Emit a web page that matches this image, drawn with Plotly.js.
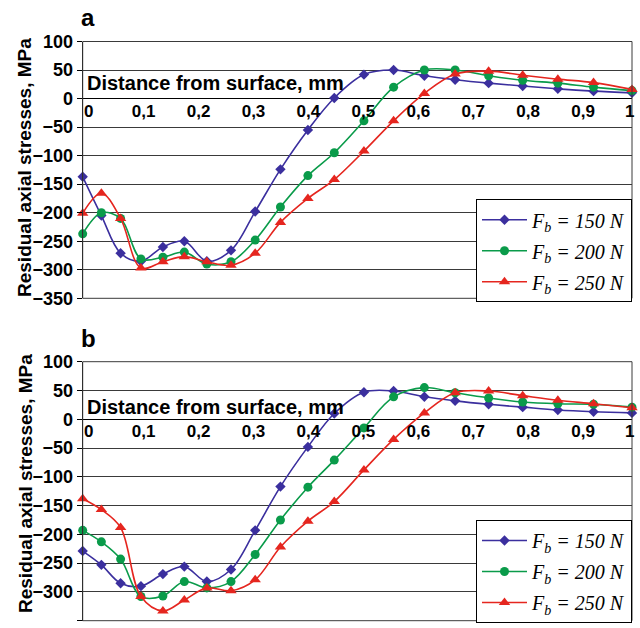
<!DOCTYPE html>
<html>
<head>
<meta charset="utf-8">
<script src="https://cdn.plot.ly/plotly-3.0.1.min.js"></script>
<style>html,body{margin:0;padding:0;background:#fff;}#chart{width:640px;height:628px;}</style>
</head>
<body>
<div id="chart"></div>
<script>
// Depth from surface, mm (shared by all series)
const depth = [0, 0.034, 0.069, 0.106, 0.146, 0.185, 0.226, 0.270, 0.314, 0.360, 0.410, 0.458, 0.512, 0.566, 0.622, 0.678, 0.739, 0.801, 0.865, 0.930, 1.0];

// Panel a
const blueA  = [-137, -205, -271, -285, -260, -250, -285, -266, -198, -124, -55, 1, 42, 50, 40, 33, 27, 22, 17, 13, 10];
const greenA = [-237, -200, -210, -281, -278, -269, -290, -286, -248, -190, -135, -95, -39, 20, 50, 50, 40, 32, 27, 20, 14];
const redA   = [-201, -166, -210, -297, -286, -277, -286, -292, -271, -217, -175, -142, -92, -39, 9, 43, 48, 41, 34, 28, 16];

// Panel b
const blueB  = [-229, -253, -285, -290, -269, -256, -282, -261, -193, -117, -48, 10, 47, 49, 39, 32, 26, 21, 16, 13, 11];
const greenB = [-193, -213, -243, -308, -307, -282, -293, -282, -235, -175, -118, -71, -15, 39, 55, 46, 37, 30, 27, 26, 21];
const redB   = [-138, -157, -188, -308, -333, -314, -293, -298, -279, -222, -177, -143, -88, -35, 11, 46, 49, 41, 33, 27, 20];

const seriesNames = ['<i>F<sub>b</sub> = 150 N</i>', '<i>F<sub>b</sub> = 200 N</i>', '<i>F<sub>b</sub> = 250 N</i>'];
const xTickVals = [0, 0.1, 0.2, 0.3, 0.4, 0.5, 0.6, 0.7, 0.8, 0.9, 1];
const xTickText = ['0', '0,1', '0,2', '0,3', '0,4', '0,5', '0,6', '0,7', '0,8', '0,9', '1'];
const yTickVals = [100, 50, 0, -50, -100, -150, -200, -250, -300, -350];
const panelLabels = ['a', 'b'];
const xTitle = 'Distance from surface, mm';
const yTitle = 'Residual axial stresses, MPa';

const colors = ['#3b2f9e', '#0a9b4a', '#e5261f'];
const symbols = ['diamond', 'circle', 'triangle-up'];
const sizes = [8, 9, 10];

const W = 640, H = 628;
const px2fx = p => p / W;
const py2fy = p => 1 - p / H;

function mk(xa, ya, yvals, i, leg) {
  return {
    x: depth, y: yvals, xaxis: xa, yaxis: ya,
    type: 'scatter', mode: 'lines+markers',
    name: seriesNames[i], legend: leg, legendgroup: leg + i,
    line: {color: colors[i], width: 1.6, shape: 'spline', smoothing: 1},
    marker: {color: colors[i], symbol: symbols[i], size: sizes[i]},
    cliponaxis: false
  };
}

const data = [
  mk('x', 'y', blueA, 0, 'legend'), mk('x', 'y', greenA, 1, 'legend'), mk('x', 'y', redA, 2, 'legend'),
  mk('x2', 'y2', blueB, 0, 'legend2'), mk('x2', 'y2', greenB, 1, 'legend2'), mk('x2', 'y2', redB, 2, 'legend2')
];

const xDom = [px2fx(82.7), px2fx(632)];
const yDomA = [py2fy(298.3), py2fy(41.5)];
const yDomB = [py2fy(620.7), py2fy(361.7)];
const zeroA = yDomA[0] + (yDomA[1] - yDomA[0]) * (350 / 450);
const zeroB = yDomB[0] + (yDomB[1] - yDomB[0]) * (350 / 450);

const SANS = 'Liberation Sans, Arial, sans-serif';
const tickFont = {family: SANS, size: 17, color: '#000', weight: 'bold'};

function xa(pos) {
  return {
    domain: xDom, range: [0, 1], anchor: 'free', position: pos,
    tickvals: xTickVals.slice(0, 10), ticktext: xTickText.slice(0, 10),
    ticks: '', showgrid: false, zeroline: false, showline: false,
    tickfont: tickFont, ticklabelshift: 6, ticklabelstandoff: 0, fixedrange: true
  };
}
function ya(dom, xref) {
  return {
    domain: dom, range: [-350, 100], anchor: xref,
    tickvals: yTickVals, ticks: 'outside', ticklen: 5, tickcolor: '#000',
    showline: true, linecolor: '#000', linewidth: 1,
    showgrid: true, gridcolor: '#3a3a3a', gridwidth: 1,
    zeroline: true, zerolinecolor: '#000', zerolinewidth: 1,
    tickfont: {family: SANS, size: 18, color: '#000', weight: 'bold'},
    fixedrange: true
  };
}

const legFont = {family: 'Liberation Serif, Times New Roman, serif', size: 20, color: '#000'};
function leg(ytop) {
  return {
    x: px2fx(632), xanchor: 'right', y: py2fy(ytop), yanchor: 'top',
    bgcolor: '#fff', bordercolor: '#000', borderwidth: 1,
    font: legFont, tracegroupgap: 2, itemwidth: 45
  };
}

const annFont = {family: SANS, size: 20, color: '#000', weight: 'bold'};
const yTitleFont = {family: SANS, size: 19, color: '#000', weight: 'bold'};
const annotations = [
  {xref: 'paper', yref: 'paper', x: px2fx(79), y: py2fy(18), xanchor: 'left', yanchor: 'middle', showarrow: false,
   text: panelLabels[0], font: {family: SANS, size: 24, color: '#000', weight: 'bold'}},
  {xref: 'paper', yref: 'paper', x: px2fx(79), y: py2fy(338), xanchor: 'left', yanchor: 'middle', showarrow: false,
   text: panelLabels[1], font: {family: SANS, size: 24, color: '#000', weight: 'bold'}},
  {xref: 'paper', yref: 'y', x: px2fx(85), y: 27, xanchor: 'left', yanchor: 'middle', showarrow: false, text: xTitle, font: annFont},
  {xref: 'paper', yref: 'y2', x: px2fx(85), y: 22, xanchor: 'left', yanchor: 'middle', showarrow: false, text: xTitle, font: annFont},
  {xref: 'paper', yref: 'paper', x: px2fx(636), y: zeroA, xanchor: 'right', yanchor: 'top', yshift: -1, showarrow: false, text: xTickText[10], font: tickFont},
  {xref: 'paper', yref: 'paper', x: px2fx(636), y: zeroB, xanchor: 'right', yanchor: 'top', yshift: -1, showarrow: false, text: xTickText[10], font: tickFont},
  {xref: 'paper', yref: 'paper', x: px2fx(25), y: py2fy(168), xanchor: 'center', yanchor: 'middle', textangle: -90, showarrow: false, text: yTitle, font: yTitleFont},
  {xref: 'paper', yref: 'paper', x: px2fx(25), y: py2fy(484), xanchor: 'center', yanchor: 'middle', textangle: -90, showarrow: false, text: yTitle, font: yTitleFont}
];

const shapes = [
  {type: 'rect', xref: 'x domain', yref: 'y domain', x0: 0, x1: 1, y0: 0, y1: 1, line: {color: '#3a3a3a', width: 1}},
  {type: 'rect', xref: 'x2 domain', yref: 'y2 domain', x0: 0, x1: 1, y0: 0, y1: 1, line: {color: '#3a3a3a', width: 1}}
];

const layout = {
  width: W, height: H,
  margin: {l: 0, r: 0, t: 0, b: 0},
  paper_bgcolor: '#fff', plot_bgcolor: '#fff',
  xaxis: xa(zeroA), yaxis: ya(yDomA, 'x'),
  xaxis2: xa(zeroB), yaxis2: ya(yDomB, 'x2'),
  legend: leg(199.3), legend2: leg(520),
  showlegend: true,
  annotations: annotations, shapes: shapes
};

Plotly.newPlot('chart', data, layout, {displayModeBar: false, staticPlot: true});
</script>
</body>
</html>
